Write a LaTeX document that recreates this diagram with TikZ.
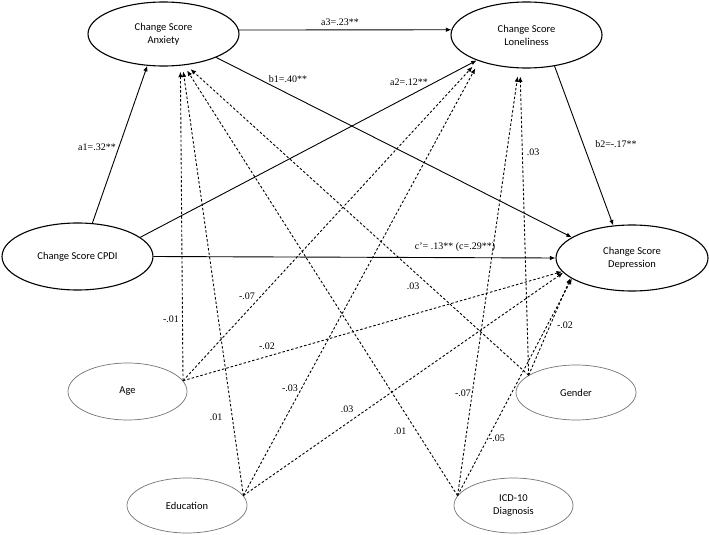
\documentclass[tikz,border=0pt]{standalone}
\usepackage{fontspec}
\setmainfont{Liberation Serif}
\newfontfamily\nodefont{Carlito}
\usetikzlibrary{shapes.geometric,arrows.meta}
\begin{document}
\begin{tikzpicture}[x=1pt,y=-1pt,
  big/.style={ellipse, draw, line width=1.1pt, inner sep=0pt, align=center,
    font=\nodefont\fontsize{10.5}{13}\selectfont},
  small/.style={ellipse, draw=black!55, line width=0.7pt, inner sep=0pt, align=center,
    font=\nodefont\fontsize{10.5}{13}\selectfont},
  solidarr/.style={-{Latex[length=5.5pt,width=4.5pt]}, line width=0.9pt},
  dasharr/.style={-{Latex[length=5.5pt,width=4.5pt]}, line width=0.9pt, dash pattern=on 2.5pt off 2pt},
  lbl/.style={font=\fontsize{10}{12}\selectfont, inner sep=1pt}
]
\useasboundingbox (0,0) rectangle (709,535);

% latent / main variables
\node[big, minimum width=151pt, minimum height=64pt] (anx) at (163.5,34) {Change Score\\Anxiety};
\node[big, minimum width=151pt, minimum height=66pt] (lon) at (526.5,35) {Change Score\\Loneliness};
\node[big, minimum width=151pt, minimum height=67pt] (cpdi) at (77.5,256.5) {Change Score CPDI};
\node[big, minimum width=152pt, minimum height=66pt] (dep) at (632,258) {Change Score\\Depression};

% covariates
\node[small, minimum width=119pt, minimum height=57pt] (age) at (127.5,391.5) {Age};
\node[small, minimum width=120pt, minimum height=55pt] (edu) at (187,505.5) {Education};
\node[small, minimum width=120pt, minimum height=55pt] (gen) at (576,392.5) {Gender};
\node[small, minimum width=119pt, minimum height=55pt] (icd) at (513.5,505.5) {ICD-10\\Diagnosis};

% solid paths
\draw[solidarr] (cpdi.66) -- (anx.-117);
\draw[solidarr] (anx.3) -- (lon.176);
\draw[solidarr] (cpdi.17) -- (lon.-153);
\draw[solidarr] (anx.-24) -- (dep.161);
\draw[solidarr] (lon.-48) -- (dep.120);
\draw[solidarr] (cpdi.east) -- (dep.west);

% dashed covariate paths
\draw[dasharr, shorten >=6pt] (age.11) -- (anx.-62);
\draw[dasharr, shorten >=8pt] (age.11) -- (lon.-152);
\draw[dasharr] (age.11) -- (dep.-169);

\draw[dasharr, shorten >=6pt] (edu.10) -- (anx.-59);
\draw[dasharr, shorten >=8pt] (edu.10) -- (lon.-151);
\draw[dasharr] (edu.10) -- (dep.-168);

\draw[dasharr, shorten >=6pt] (gen.160) -- (anx.-54);
\draw[dasharr, shorten >=8pt] (gen.160) -- (lon.-101);
\draw[dasharr] (gen.160) -- (dep.-162);

\draw[dasharr, shorten >=6pt] (icd.170) -- (anx.-57);
\draw[dasharr, shorten >=8pt] (icd.170) -- (lon.-103);
\draw[dasharr] (icd.170) -- (dep.-161);

% labels
\node[lbl] (la1) at (97,147) {a1=.32**};
\node[lbl] (la3) at (340,22) {a3=.23**};
\node[lbl] (lb1) at (288,79) {b1=.40**};
\node[lbl] (la2) at (409,82) {a2=.12**};
\node[lbl] (lb2) at (616,144) {b2=-.17**};
\node[lbl] (lc) at (455,247) {c'= .13** (c=.29**)};
\node[lbl] (lgl) at (533,152) {.03};
\node[lbl] (lga) at (413,286) {.03};
\node[lbl] (lgd) at (565,325) {-.02};
\node[lbl] (laa) at (171,319) {-.01};
\node[lbl] (lal) at (247,296) {-.07};
\node[lbl] (lad) at (267,346) {-.02};
\node[lbl] (lea) at (216,417) {.01};
\node[lbl] (lel) at (290,388) {-.03};
\node[lbl] (led) at (347,409) {.03};
\node[lbl] (lil) at (463,393) {-.07};
\node[lbl] (lia) at (400,431) {.01};
\node[lbl] (lid) at (497,438) {-.05};
\end{tikzpicture}
\end{document}
